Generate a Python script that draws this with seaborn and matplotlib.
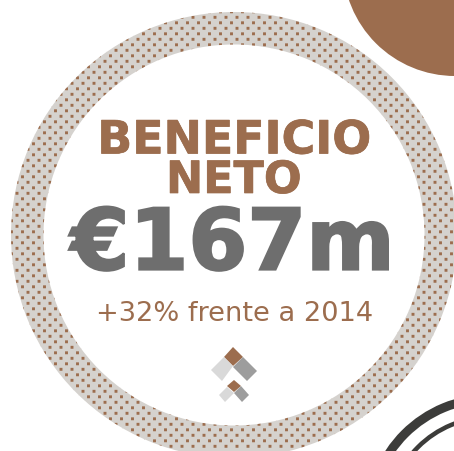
import matplotlib
matplotlib.use("Agg")
import matplotlib.pyplot as plt
import matplotlib.patheffects as pe
from matplotlib.patches import Circle, Wedge, Polygon
import numpy as np
import pandas as pd
import seaborn as sns

# textos de la ficha
title_lines = ["BENEFICIO", "NETO"]
main_value = "€167m"
subtitle = "+32% frente a 2014"

BROWN = "#9C6D4E"
GREY = "#6E6E6E"
RING = "#D5D2CE"
DARK = "#3C3C3A"
ARROW_LIGHT = "#D9D9D9"
ARROW_MID = "#9D9D9D"

sns.set_theme(style="white")
plt.rcParams["font.family"] = ["DejaVu Sans"]

fig = plt.figure(figsize=(4.54, 4.52), dpi=100)
ax = fig.add_axes([0, 0, 1, 1])

# Anillo punteado
ring = Wedge((234, 236), 223, 0, 360, width=32.5, facecolor=RING, edgecolor="none", zorder=1)
ax.add_patch(ring)

rows = []
for k, y in enumerate(np.arange(1.8, 452, 5.5)):
    for x in np.arange(6 + ((k + 1) % 2) * 5.5, 454, 11):
        rows.append((x, y))
dots = pd.DataFrame(rows, columns=["x", "y"])
sns.scatterplot(data=dots, x="x", y="y", marker="s", s=4.4, color=BROWN, linewidth=0,
                ax=ax, zorder=2, legend=False)
pts_coll = ax.collections[-1]
pts_coll.set_clip_path(ring)
pts_coll.set_snap(False)
# un color por punto: asi Agg no redondea las posiciones al pixel
pts_coll.set_facecolor([BROWN] * len(dots))

# Formas de las esquinas
ax.add_patch(Circle((455, -35), 112, facecolor=BROWN, edgecolor="none", zorder=3))
ax.add_patch(Wedge((490, 520), 125, 0, 360, width=9, facecolor=DARK, edgecolor="none", zorder=3))
ax.add_patch(Wedge((490, 520), 104, 0, 360, width=4.5, facecolor=DARK, edgecolor="none", zorder=3))

# Flechas
arrows = [
    ([(233, 348), (243, 358), (233, 367), (224, 358)], BROWN),
    ([(243, 358), (257, 372), (247, 382), (233, 368)], ARROW_MID),
    ([(224, 358), (233, 367), (222, 382), (211, 371)], ARROW_LIGHT),
    ([(234, 381), (241, 387), (234, 393), (227, 387)], BROWN),
    ([(241, 387), (249, 396), (242, 403), (234, 394)], ARROW_MID),
    ([(227, 388), (234, 394), (225, 403), (219, 396)], ARROW_LIGHT),
]
for pts, col in arrows:
    ax.add_patch(Polygon(pts, closed=True, facecolor=col, edgecolor="none", zorder=3))

# Textos
t1 = ax.text(234.5, 137, title_lines[0], color=BROWN, fontsize=33, fontweight="bold",
             ha="center", va="center_baseline", zorder=4)
t2 = ax.text(234, 177, title_lines[1], color=BROWN, fontsize=32, fontweight="bold",
             ha="center", va="center_baseline", zorder=4)
t3 = ax.text(232.5, 238, main_value, color=GREY, fontsize=61, fontweight="bold",
             ha="center", va="center_baseline", zorder=4)
ax.text(234.5, 311, subtitle, color=BROWN, fontsize=19.6, ha="center", va="center_baseline", zorder=4)

# Verdana Bold es mas gruesa que DejaVu
for t, w in [(t1, 0.5), (t2, 0.5), (t3, 1.6)]:
    t.set_path_effects([pe.withStroke(linewidth=w, foreground=t.get_color(), joinstyle="miter")])

ax.set_xlim(0, 454)
ax.set_ylim(452, 0)
ax.set_axis_off()

fig.savefig("out.png", dpi=100)
